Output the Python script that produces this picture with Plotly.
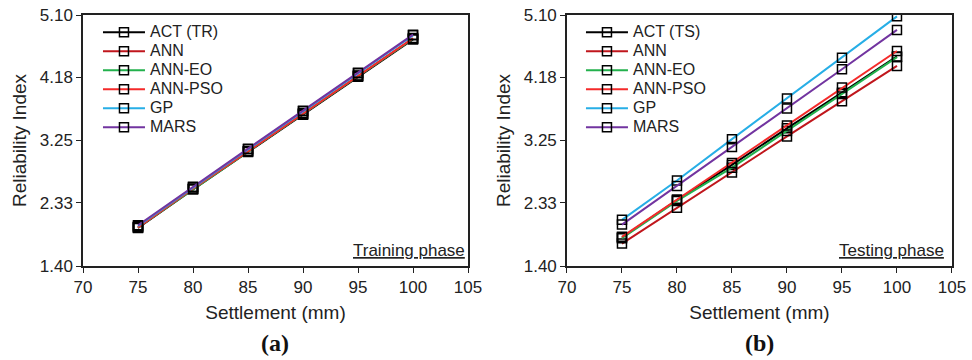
import plotly.graph_objects as go

settlement = [75, 80, 85, 90, 95, 100]
series_names = ["ANN", "ANN-EO", "ANN-PSO", "GP", "MARS"]

# Training phase
act_tr = [1.96, 2.53, 3.08, 3.63, 4.19, 4.74]
ann_tr = [1.97, 2.54, 3.09, 3.64, 4.20, 4.75]
annEO_tr = [1.97, 2.53, 3.09, 3.64, 4.20, 4.75]
annPSO_tr = [1.97, 2.54, 3.09, 3.65, 4.21, 4.76]
gp_tr = [1.99, 2.56, 3.12, 3.68, 4.24, 4.80]
mars_tr = [2.00, 2.57, 3.13, 3.69, 4.25, 4.81]

# Testing phase
act_ts = [1.82, 2.37, 2.89, 3.43, 3.955, 4.49]
ann_ts = [1.73, 2.26, 2.78, 3.31, 3.83, 4.35]
annEO_ts = [1.81, 2.36, 2.85, 3.39, 3.935, 4.48]
annPSO_ts = [1.83, 2.38, 2.92, 3.47, 4.03, 4.57]
gp_ts = [2.08, 2.66, 3.27, 3.87, 4.47, 5.08]
mars_ts = [2.01, 2.58, 3.155, 3.72, 4.30, 4.88]

ytick_vals = [1.40, 2.33, 3.25, 4.18, 5.10]
ytick_text = ["1.40", "2.33", "3.25", "4.18", "5.10"]
xtick_vals = [70, 75, 80, 85, 90, 95, 100, 105]

colors = ["#000000", "#c0161c", "#23b14d", "#f42a2a", "#27aee6", "#7234a0"]
FONT = "Liberation Sans, Arial, sans-serif"
TXT = "#222222"


def leg(name):
    return '<span style="font-size:16px">' + name + '</span>'


fig = go.Figure()

tr_sets = [act_tr, ann_tr, annEO_tr, annPSO_tr, gp_tr, mars_tr]
ts_sets = [act_ts, ann_ts, annEO_ts, annPSO_ts, gp_ts, mars_ts]
names_tr = ["ACT (TR)"] + series_names
names_ts = ["ACT (TS)"] + series_names

for vals, name, col in zip(tr_sets, names_tr, colors):
    fig.add_trace(go.Scatter(
        x=settlement, y=vals, name=leg(name), mode="lines+markers",
        line=dict(color=col, width=2),
        marker=dict(symbol="square-open", color="black", size=9, line=dict(width=1.5)),
        xaxis="x", yaxis="y", legend="legend"))

for vals, name, col in zip(ts_sets, names_ts, colors):
    fig.add_trace(go.Scatter(
        x=settlement, y=vals, name=leg(name), mode="lines+markers",
        line=dict(color=col, width=2),
        marker=dict(symbol="square-open", color="black", size=9, line=dict(width=1.5)),
        xaxis="x2", yaxis="y2", legend="legend2"))

axis_common = dict(
    showline=True, linecolor="#222222", linewidth=1.5, mirror=True,
    ticks="outside", ticklen=5, tickwidth=1.2, tickcolor="#222222",
    showgrid=False, zeroline=False, automargin=False,
    tickfont=dict(family=FONT, size=17, color=TXT),
)

xtitle = dict(text="Settlement (mm)", font=dict(family=FONT, size=19, color=TXT), standoff=10)
ytitle = dict(text="Reliability Index", font=dict(family=FONT, size=19, color=TXT), standoff=8)

ydom = [0.2611, 0.9583]
legend_common = dict(xanchor="left", yanchor="top", bgcolor="rgba(0,0,0,0)",
                     font=dict(family=FONT, size=12, color=TXT), tracegroupgap=0,
                     itemwidth=42)
fig.update_layout(
    width=972, height=360,
    margin=dict(l=0, r=0, t=0, b=0, pad=0, autoexpand=False),
    paper_bgcolor="white", plot_bgcolor="white",
    font=dict(family=FONT, color=TXT),
    xaxis=dict(domain=[0.0854, 0.4815], range=[70, 105], tickvals=xtick_vals,
               title=xtitle, anchor="y", **axis_common),
    yaxis=dict(domain=ydom, range=[1.40, 5.10], tickvals=ytick_vals, ticktext=ytick_text,
               title=ytitle, anchor="x", **axis_common),
    xaxis2=dict(domain=[0.5833, 0.9794], range=[70, 105], tickvals=xtick_vals,
                title=xtitle, anchor="y2", **axis_common),
    yaxis2=dict(domain=ydom, range=[1.40, 5.10], tickvals=ytick_vals, ticktext=ytick_text,
                title=ytitle, anchor="x2", **axis_common),
    legend=dict(x=0.1008, y=0.951, **legend_common),
    legend2=dict(x=0.5977, y=0.951, **legend_common),
    showlegend=True,
)

fig.add_annotation(text="<u>Training phase</u>", xref="x domain", yref="y domain",
                   x=0.997, y=0.015, xanchor="right", yanchor="bottom", showarrow=False,
                   font=dict(family=FONT, size=17, color=TXT))
fig.add_annotation(text="<u>Testing phase</u>", xref="x2 domain", yref="y2 domain",
                   x=0.985, y=0.015, xanchor="right", yanchor="bottom", showarrow=False,
                   font=dict(family=FONT, size=17, color=TXT))
fig.add_annotation(text="<b>(a)</b>", xref="paper", yref="paper", x=0.2834, y=0.047,
                   xanchor="center", yanchor="middle", showarrow=False,
                   font=dict(family="Liberation Serif, Times New Roman, serif", size=24, color="#111"))
fig.add_annotation(text="<b>(b)</b>", xref="paper", yref="paper", x=0.7813, y=0.047,
                   xanchor="center", yanchor="middle", showarrow=False,
                   font=dict(family="Liberation Serif, Times New Roman, serif", size=24, color="#111"))

fig.write_html("out.html")
